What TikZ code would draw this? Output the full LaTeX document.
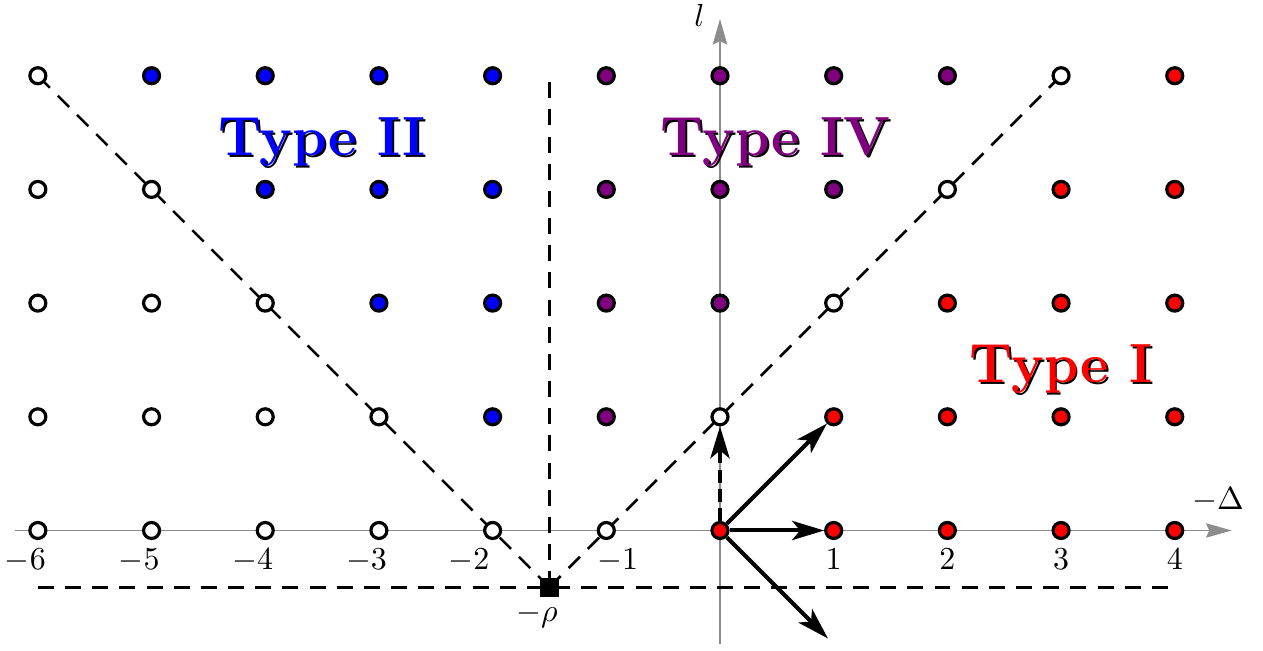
\documentclass[tikz,border=0pt]{standalone}
\usetikzlibrary{arrows.meta}
\definecolor{typefour}{RGB}{128,0,128}
\definecolor{axisgray}{RGB}{140,140,140}
\tikzset{
  axis/.style={axisgray,line width=0.4pt,-{Stealth[length=8pt,width=4.5pt,inset=1pt]}},
  cone/.style={black,line width=0.8pt,dash pattern=on 5pt off 3.5pt},
  dot/.style={circle,draw=black,line width=1pt,minimum size=5pt,inner sep=0pt},
  move/.style={line width=1.25pt,-{Stealth[length=10pt,width=6pt,inset=2.5pt]}},
  typelabel/.style={font=\LARGE\bfseries,anchor=base,inner sep=0pt},
  ticklabel/.style={anchor=base,inner sep=0pt},
}
\begin{document}
\begin{tikzpicture}[x=1.25cm,y=1.25cm]
  \useasboundingbox (-6.333,-1.056) rectangle (4.776,4.666);

  % Axes
  \coordinate (xs) at (-6.2,0);
  \coordinate (xe) at (4.5,0);
  \coordinate (ys) at (0,-1);
  \coordinate (ye) at (0,4.5);
  \draw[axis] (xs) -- (xe);
  \draw[axis] (ys) -- (ye);
  \node[ticklabel] (dlabel) at (4.38,0.185) {$-\Delta$};
  \node[ticklabel] (llabel) at (-0.18,4.43) {$l$};

  % Tick labels (minus hangs to the left of the digit)
  \foreach \d/\pos in {6/-6,5/-5,4/-4,3/-3,2/-2.1,1/-0.79}
    \node[ticklabel] (tkm\d) at (\pos,-0.34) {\llap{$-$}$\d$};
  \foreach \d in {1,...,4}
    \node[ticklabel] (tk\d) at (\d,-0.34) {$\d$};

  % Dashed cone, wall and floor through -rho
  \coordinate (apex) at (-1.5,-0.5);
  \coordinate (floorl) at (-6,-0.5);
  \coordinate (floorr) at (4,-0.5);
  \coordinate (wall) at (-1.5,4);
  \coordinate (conel) at (-6,4);
  \coordinate (coner) at (3,4);
  \draw[cone] (floorl) -- (floorr);
  \draw[cone] (apex) -- (wall);
  \draw[cone] (apex) -- (conel);
  \draw[cone] (apex) -- (coner);

  % Lattice points: 0 outside, 1 Type I, 2 Type II, 3 Type IV
  \foreach \l in {0,...,4}{
    \foreach \x in {-6,...,4}{
      \pgfmathtruncatemacro{\k}{(\x-\l+1>0) ? 1 : (((\x-\l+1<0) && (\x+\l+2>0)) ? ((\x+1<0) ? 2 : 3) : 0)}
      \edef\col{\ifcase\k white\or red\or blue\or typefour\fi}
      \node[dot,fill=\col] (p\x-\l) at (\x,\l) {};
    }
  }

  % -rho
  \node[fill=black,minimum size=6pt,inner sep=0pt] (rho) at (apex) {};
  \node[ticklabel] (rholabel) at (-1.5,-0.8) {\llap{$-$}$\rho$};

  % Moves from the origin
  \coordinate (down) at (0.95,-0.95);
  \draw[move] (p0-0) -- (p1-1);
  \draw[move] (p0-0) -- (p1-0);
  \draw[move] (p0-0) -- (down);
  \draw[move,dash pattern=on 4pt off 2pt] (p0-0) -- (p0-1);

  % Region labels with a drop shadow
  \node[typelabel,black,xshift=0.6pt,yshift=-0.6pt] (t2sh) at (-3.5,3.3) {Type II};
  \node[typelabel,blue] (t2) at (-3.5,3.3) {Type II};
  \node[typelabel,black,xshift=0.6pt,yshift=-0.6pt] (t4sh) at (0.49,3.3) {Type IV};
  \node[typelabel,typefour] (t4) at (0.49,3.3) {Type IV};
  \node[typelabel,black,xshift=0.6pt,yshift=-0.6pt] (t1sh) at (3,1.3) {Type I};
  \node[typelabel,red] (t1) at (3,1.3) {Type I};
\end{tikzpicture}
\end{document}
